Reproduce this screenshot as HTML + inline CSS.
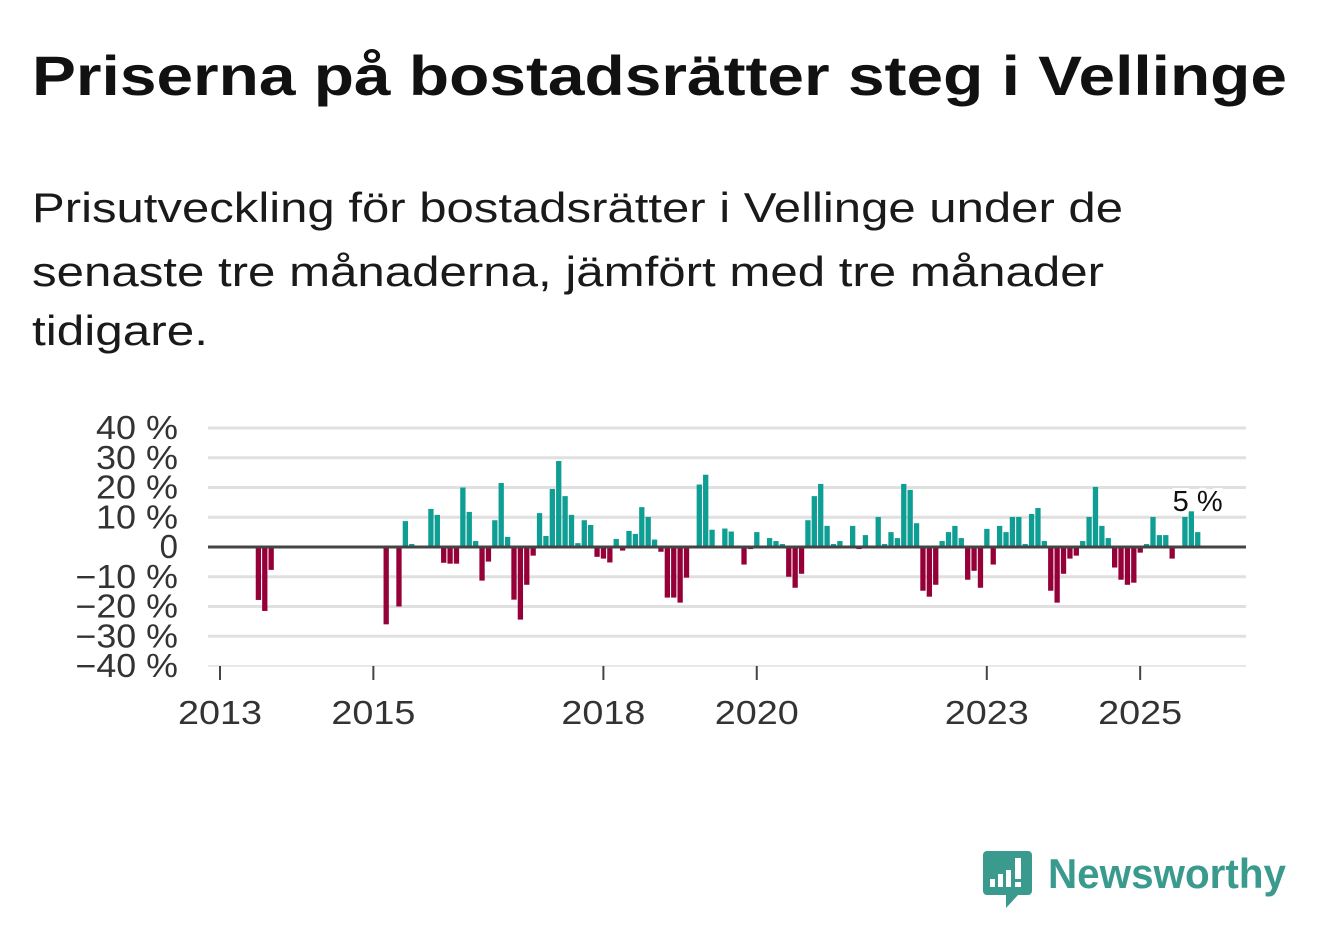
<!DOCTYPE html>
<html><head><meta charset="utf-8">
<style>
body{margin:0;background:#fff;font-family:"Liberation Sans","DejaVu Sans",sans-serif;}
#wrap{position:relative;width:1322px;height:939px;overflow:hidden;}
svg{position:absolute;left:0;top:0;}
</style></head><body>
<div id="wrap">
<svg width="1322" height="939">
<text x="32" y="95" font-size="56" font-weight="bold" fill="#111" textLength="1255" lengthAdjust="spacingAndGlyphs">Priserna på bostadsrätter steg i Vellinge</text>
<g font-size="42" fill="#1a1a1a">
<text x="32" y="222" textLength="1091" lengthAdjust="spacingAndGlyphs">Prisutveckling för bostadsrätter i Vellinge under de</text>
<text x="32" y="286" textLength="1072" lengthAdjust="spacingAndGlyphs">senaste tre månaderna, jämfört med tre månader</text>
<text x="32" y="345" textLength="176" lengthAdjust="spacingAndGlyphs">tidigare.</text>
</g>
</svg>
<svg id="chart" width="1322" height="939"></svg>
<svg width="1322" height="939">
<path d="M987 851 h41 a4 4 0 0 1 4 4 v36 a4 4 0 0 1 -4 4 h-10 l-12 13 v-13 h-19 a4 4 0 0 1 -4 -4 v-36 a4 4 0 0 1 4 -4z" fill="#3a9a8e"/>
<rect x="990" y="879" width="5" height="8" fill="#fff"/><rect x="998" y="874" width="5" height="13" fill="#fff"/><rect x="1006" y="870" width="5" height="17" fill="#fff"/><rect x="1015" y="858" width="6" height="21" fill="#fff"/><rect x="1015" y="882" width="6" height="5" fill="#fff"/>
<text x="1048" y="888" font-size="42" font-weight="bold" fill="#3a9a8e" textLength="238" lengthAdjust="spacingAndGlyphs">Newsworthy</text>
</svg>
</div>
<script>
const startMonth = [2013, 0];
const monthIndex = [6,7,8,26,28,29,30,33,34,35,36,37,38,39,40,41,42,43,44,45,46,47,48,49,50,51,52,53,54,55,56,57,58,59,60,61,62,63,64,65,66,67,68,69,70,71,72,73,75,76,77,79,80,82,83,84,86,87,88,89,90,91,92,93,94,95,96,97,99,100,101,103,104,105,106,107,108,109,110,111,112,113,114,115,116,117,118,119,120,121,122,123,124,125,126,127,128,129,130,131,132,133,134,135,136,137,138,139,140,141,142,143,144,145,146,147,148,149,151,152,153];
const values = [-17.8,-21.5,-7.7,-26,-20,8.7,1,12.8,10.8,-5.3,-5.6,-5.6,20,11.8,2,-11.3,-4.9,9,21.5,3.4,-17.7,-24.4,-12.7,-2.9,11.4,3.7,19.5,28.9,17.1,10.8,1.3,9,7.4,-3.3,-3.9,-5.2,2.7,-1.2,5.4,4.4,13.4,10.1,2.5,-1.6,-17,-17,-18.7,-10.3,21,24.3,5.8,6.2,5.2,-5.9,-0.7,5,3,2,1,-10,-13.7,-9,9,17.1,21.2,7.1,1,2,7.1,-0.7,4,10.1,1,5,3,21.2,19.2,8,-14.7,-16.7,-12.7,2,5,7.1,3,-11,-8,-13.7,6.1,-5.9,7.1,5,10.1,10.1,1,11.1,13.1,2,-14.7,-18.7,-9,-3.9,-2.9,2,10.1,20.2,7.1,3,-6.9,-11,-12.7,-12,-1.9,1,10.1,4,4,-3.9,10.1,12,5];
const yTicks = [40,30,20,10,0,-10,-20,-30,-40];
const yTickLabels = ["40 %","30 %","20 %","10 %","0","−10 %","−20 %","−30 %","−40 %"];
const xTicks = [2013,2015,2018,2020,2023,2025];
const lastLabel = "5 %";

const svg = document.getElementById('chart');
const NS = 'http://www.w3.org/2000/svg';
const y = v => 547 - v * 2.975;
const x = m => 220 + m * 6.39;
function mk(tag, attrs){const e=document.createElementNS(NS,tag);for(const k in attrs)e.setAttribute(k,attrs[k]);svg.appendChild(e);return e;}

yTicks.forEach((t,i)=>{
  if(t!==0){const g=mk('line',{x1:208,x2:1246,y1:y(t),y2:y(t),stroke:'#e0e0e0','stroke-width':t===-40?1.5:3});
  
  }
  const lab=yTickLabels[i];
  const attrs={x:178,y:y(t)+11,'text-anchor':'end','font-size':33,fill:'#333'};
  if(lab.length>1){attrs.textLength=lab.length*20.5;attrs.lengthAdjust='spacingAndGlyphs';}
  const l=mk('text',attrs);
  l.textContent=lab;
  
  
});
monthIndex.forEach((m,i)=>{
  const v=values[i];
  const r=mk('rect',{x:x(m)-2.6,width:5.3,y:Math.min(y(v),y(0)),height:Math.abs(y(v)-y(0)),fill:v>=0?'#0e9e94':'#960038'});
  
  
});
const z=mk('line',{x1:208,x2:1246,y1:y(0),y2:y(0),stroke:'#444','stroke-width':3});


xTicks.forEach(yr=>{
  const m=(yr-startMonth[0])*12;
  const t=mk('line',{x1:x(m),x2:x(m),y1:666,y2:680,stroke:'#444','stroke-width':2});
  
  
  const l=mk('text',{x:x(m),y:724,'text-anchor':'middle','font-size':33,fill:'#333',textLength:84,lengthAdjust:'spacingAndGlyphs'});
  l.textContent=yr;
  
  
});
const lm=monthIndex[monthIndex.length-1];
const lab=mk('text',{x:x(lm),y:511,'text-anchor':'middle','font-size':29,fill:'#111',stroke:'#fff','stroke-width':6,'paint-order':'stroke'});
lab.textContent=lastLabel;


</script>
</body></html>
